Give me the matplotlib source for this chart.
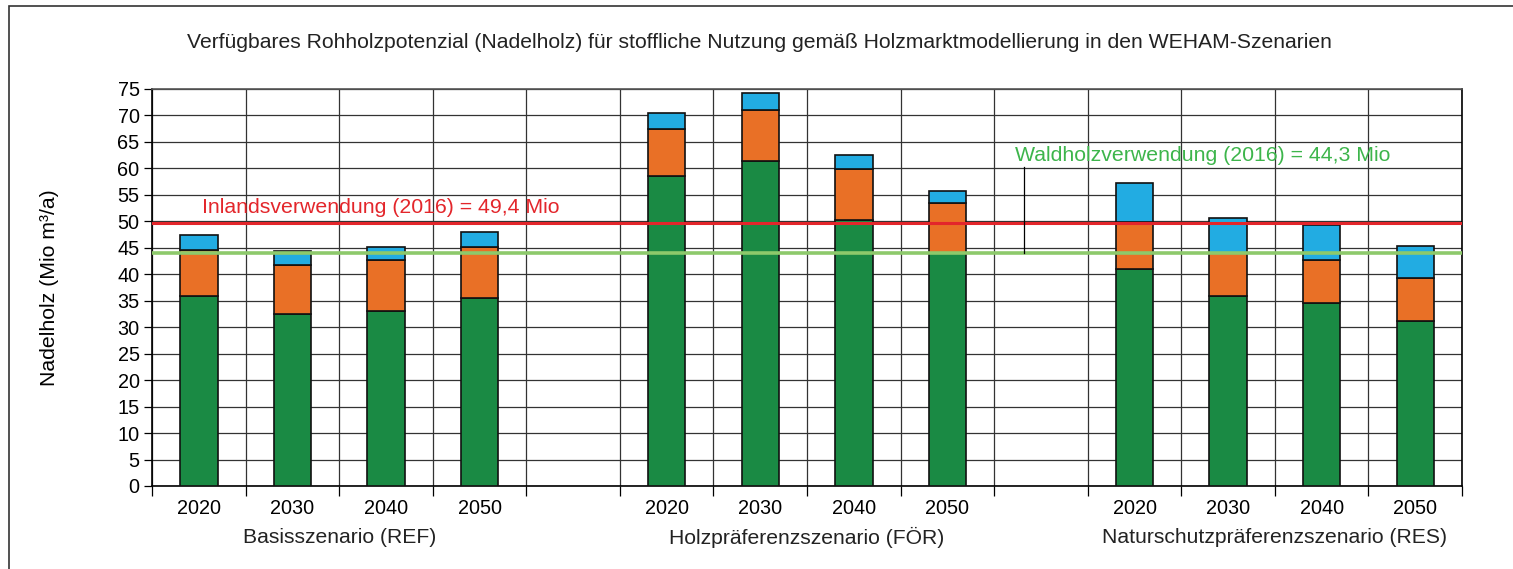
import numpy as np
import matplotlib.pyplot as plt
from matplotlib.patches import Rectangle

plt.rcParams['font.family'] = ['Liberation Sans', 'DejaVu Sans']

# 14 Kategorien: 4 Jahre je Szenario, dazwischen je eine Leerspalte
years = ["2020", "2030", "2040", "2050", "",
         "2020", "2030", "2040", "2050", "",
         "2020", "2030", "2040", "2050"]
groups = ["Basisszenario (REF)", "Holzpräferenzszenario (FÖR)", "Naturschutzpräferenzszenario (RES)"]

# Segmente (Mio m³/a), gestapelt
green_part = [35.8, 32.4, 33.1, 35.6, 0, 58.5, 61.4, 50.3, 44.1, 0, 40.9, 35.9, 34.6, 31.2]
orange_part = [8.7, 9.4, 9.5, 9.5, 0, 8.9, 9.6, 9.6, 9.4, 0, 8.9, 8.1, 8.0, 8.0]
blue_part = [3.0, 2.65, 2.6, 2.8, 0, 3.1, 3.25, 2.7, 2.2, 0, 7.4, 6.6, 6.65, 6.1]

inland = 49.7
waldholz = 44.0

c_green = "#1a8a44"
c_orange = "#e97026"
c_blue = "#22acE2"

x = np.arange(len(years))
green_part = np.array(green_part)
orange_part = np.array(orange_part)
blue_part = np.array(blue_part)
has_bar = np.array([y != "" for y in years])

fig = plt.figure(figsize=(15.13, 5.69), dpi=100)
ax = fig.add_axes([0.1005, 0.1459, 0.8658, 0.6977])

w = 0.4
kw = dict(width=w, edgecolor="#111111", linewidth=1.2, zorder=3)
ax.bar(x[has_bar], green_part[has_bar], color=c_green, **kw)
ax.bar(x[has_bar], orange_part[has_bar], bottom=green_part[has_bar], color=c_orange, **kw)
ax.bar(x[has_bar], blue_part[has_bar], bottom=(green_part + orange_part)[has_bar], color=c_blue, **kw)

ax.axhline(inland, color="#e3262b", lw=2.2, zorder=4)
ax.axhline(waldholz, color="#8dc96b", lw=2.6, zorder=4)
ax.plot([8.82, 8.82], [waldholz, 60.3], color="black", lw=0.9, zorder=4)
ax.text(0.03, 52.6, "Inlandsverwendung (2016) = 49,4 Mio", color="#e3262b",
        fontsize=15.3, va="center", ha="left", zorder=5)
ax.text(8.72, 62.4, "Waldholzverwendung (2016) = 44,3 Mio", color="#3db54b",
        fontsize=15.3, va="center", ha="left", zorder=5)

ax.set_xlim(-0.5, len(years) - 0.5)
ax.set_ylim(0, 75)
ax.set_yticks(np.arange(0, 76, 5))
ax.set_xticks(x)
ax.set_xticklabels(years, fontsize=14.3)
ax.tick_params(axis="x", length=0, pad=9.5)
ax.set_xticks(np.arange(-0.5, len(years)), minor=True)
ax.tick_params(axis="x", which="minor", length=7, width=0.9)
ax.tick_params(axis="y", length=6, width=0.9, labelsize=14.3, pad=3)
ax.grid(True, axis="y", color="#333333", lw=0.9, zorder=0)
ax.grid(True, axis="x", which="minor", color="#333333", lw=0.9, zorder=0)
for s in ax.spines.values():
    s.set_linewidth(1.2)
ax.spines["top"].set_color("#555555")

ax.set_ylabel("Nadelholz (Mio m³/a)", fontsize=15.3, labelpad=42)

for i, g in enumerate(groups):
    ax.text(1.5 + 5 * i, -9.8, g, fontsize=15.2, ha="center", va="center", color="#222222")

fig.text(0.502, 0.926, "Verfügbares Rohholzpotenzial (Nadelholz) für stoffliche Nutzung gemäß Holzmarktmodellierung in den WEHAM-Szenarien",
         fontsize=15.2, ha="center", va="center", color="#222222")

fig.patches.append(Rectangle((0.0062, -0.05), 1.2, 1.04, transform=fig.transFigure,
                             fill=False, edgecolor="#333333", lw=1.2))

fig.savefig("out.png", dpi=100)
